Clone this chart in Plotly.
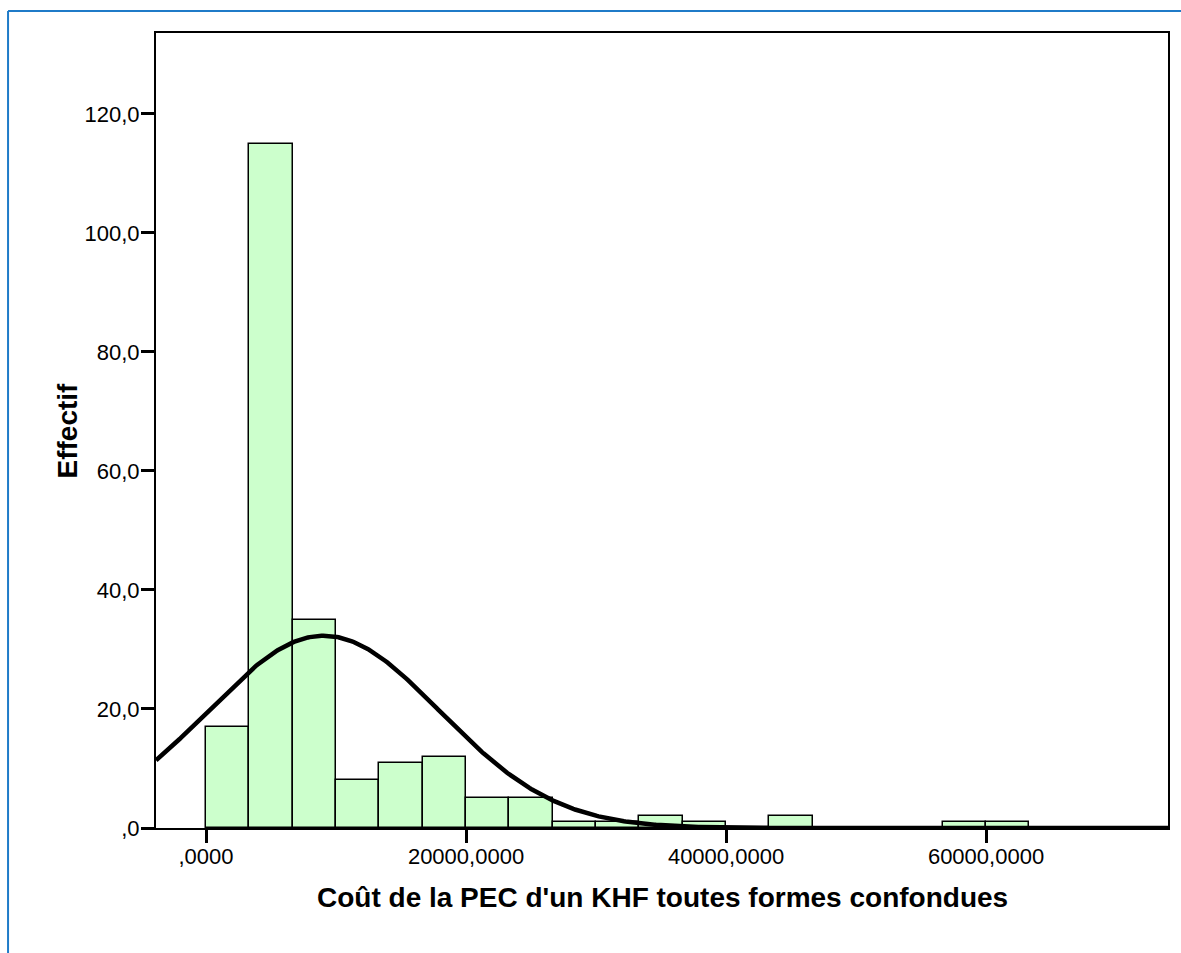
import numpy as np
import plotly.graph_objects as go

# Histogram of cost per case (bins of equal width starting at 0)
bin_width = 20000 / 6
counts = [17, 115, 35, 8, 11, 12, 5, 5, 1, 1, 2, 1, 0, 2, 0, 0, 0, 1, 1]
bin_centers = [bin_width * (i + 0.5) for i in range(len(counts))]

# Fitted normal curve parameters
mean_cost = 9060
sd_cost = 8930
n_total = sum(counts)

x_ticks = [0, 20000, 40000, 60000]
x_tick_labels = [",0000", "20000,0000", "40000,0000", "60000,0000"]
y_ticks = [0, 20, 40, 60, 80, 100, 120]
y_tick_labels = [",0", "20,0", "40,0", "60,0", "80,0", "100,0", "120,0"]

x_range = [-3846, 74000]
y_range = [0, 133.6]

xs = np.linspace(x_range[0], x_range[1], 600)
ys = n_total * bin_width / (sd_cost * np.sqrt(2 * np.pi)) * np.exp(-0.5 * ((xs - mean_cost) / sd_cost) ** 2)

fig = go.Figure()
fig.add_trace(go.Bar(
    x=bin_centers, y=counts, width=bin_width,
    marker=dict(color="#ccffcc", line=dict(color="black", width=1.5)),
    showlegend=False, hoverinfo="x+y",
))
fig.add_trace(go.Scatter(
    x=xs, y=ys, mode="lines",
    line=dict(color="black", width=4.5),
    showlegend=False, hoverinfo="skip",
))

font_family = "Liberation Sans, Arial, sans-serif"
axis_common = dict(
    showline=True, linecolor="black", linewidth=2, mirror=True,
    ticks="outside", ticklen=13, tickwidth=3, tickcolor="black",
    showgrid=False, zeroline=False,
    tickfont=dict(family=font_family, size=22, color="black"),
)

fig.update_layout(
    width=1181, height=953,
    margin=dict(l=156, r=13, t=33, b=125),
    paper_bgcolor="white", plot_bgcolor="white",
    bargap=0,
    xaxis=dict(range=x_range, tickmode="array", tickvals=x_ticks, ticktext=x_tick_labels,
               ticklabelstandoff=-5, **axis_common),
    yaxis=dict(range=y_range, tickmode="array", tickvals=y_ticks, ticktext=y_tick_labels,
               ticklabelstandoff=-3, **axis_common),
    annotations=[
        dict(text="<b>Coût de la PEC d'un KHF toutes formes confondues</b>",
             xref="paper", yref="paper", x=0.5, y=-0.088,
             xanchor="center", yanchor="middle", showarrow=False,
             font=dict(family=font_family, size=28, color="black")),
        dict(text="<b>Effectif</b>",
             xref="paper", yref="paper", x=-0.087, y=0.5, textangle=-90,
             xanchor="center", yanchor="middle", showarrow=False,
             font=dict(family=font_family, size=28, color="black")),
    ],
    shapes=[
        dict(type="line", xref="paper", yref="paper",
             x0=-0.1462, x1=-0.1462, y0=1.0277, y1=-0.2,
             line=dict(color="#1f7bc8", width=2)),
        dict(type="line", xref="paper", yref="paper",
             x0=-0.1462, x1=1.05, y0=1.0277, y1=1.0277,
             line=dict(color="#1f7bc8", width=2)),
    ],
)

fig.write_html("out.html")
